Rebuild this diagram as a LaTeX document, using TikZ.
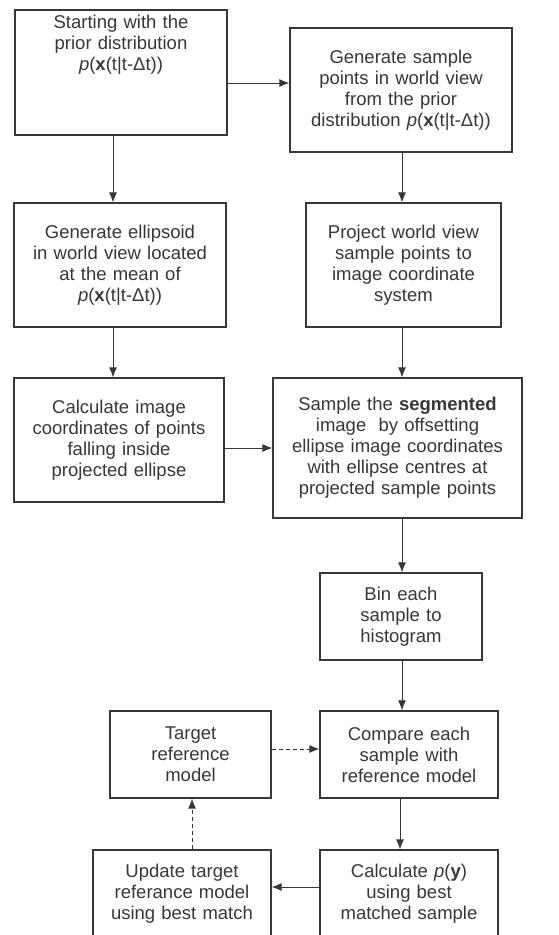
\documentclass[tikz,border=0pt]{standalone}
\usepackage{fontspec}
\setmainfont{Liberation Sans}
\usetikzlibrary{arrows.meta, positioning}
\definecolor{ink}{RGB}{55,55,55}
\tikzstyle{block} = [rectangle, draw=ink, text=ink, align=center, inner xsep=4pt, inner ysep=2pt, line width=1.3pt, font=\fontsize{18.5}{21}\selectfont]
\tikzstyle{line} = [draw=ink, -{Latex[length=10pt, width=8pt]}, line width=0.9pt]
\tikzstyle{dline} = [line, dash pattern=on 4pt off 3pt]

\begin{document}
\begin{tikzpicture}
        \useasboundingbox (0,0) rectangle (559pt,-935pt);
        % Nodes
        \node [block, text width=204pt, minimum height=125pt] (start) at (121pt,-72.5pt) {Starting with the\\prior distribution\\\textit{p}(\textbf{x}(t|t-Δt))\\[38pt]\mbox{}};
        \node [block, right of=start, node distance=280pt, yshift=-17.5pt, text width=214pt, minimum height=124pt] (gensample) {Generate sample\\points in world view\\from the prior\\distribution \textit{p}(\textbf{x}(t|t-Δt))};
        \node [block, below of=start, node distance=192.5pt, xshift=-1pt, text width=204pt, minimum height=124pt] (ellipsoid) {Generate ellipsoid\\in world view located\\at the mean of\\\textit{p}(\textbf{x}(t|t-Δt))};
        \node [block, below of=gensample, node distance=175pt, xshift=2.5pt, text width=187pt, minimum height=124pt] (project) {Project world view\\sample points to\\image coordinate\\system};
        \node [block, below of=ellipsoid, node distance=175pt, xshift=-1pt, text width=202pt, minimum height=124pt] (calcimg) {Calculate image\\coordinates of points\\falling inside\\projected ellipse};
        \node [block, below of=project, node distance=183pt, xshift=-6pt, text width=241pt, minimum height=140pt] (segment) {Sample the \textbf{segmented}\\image\ \ by offsetting\\ellipse image coordinates\\with ellipse centres at\\projected sample points};
        \node [block, below of=segment, node distance=168.5pt, xshift=3.5pt, text width=154pt, minimum height=87pt] (bin) {Bin each\\sample to\\histogram};
        \node [block, below of=bin, node distance=138pt, xshift=8pt, text width=170pt, minimum height=87pt] (compare) {Compare each\\sample with\\reference model};
        \node [block, below of=compare, node distance=139pt, text width=170pt, minimum height=87pt] (calcpy) {Calculate \textit{p}(\textbf{y})\\using best\\matched sample};
        \node [block, left of=compare, node distance=218.5pt, text width=153pt, minimum height=87pt] (target) {Target\\reference\\model};
        \node [block, left of=calcpy, node distance=227pt, text width=170pt, minimum height=87pt] (update) {Update target\\referance model\\using best match};

        % Edges
        \path [line] ([yshift=-10.5pt]start.east) -- ([yshift=7pt]gensample.west);
        \path [line] ([xshift=-8pt]start.south) -- ([xshift=-7pt]ellipsoid.north);
        \path [line] ([xshift=1pt]gensample.south) -- ([xshift=-1.5pt]project.north);
        \path [line] ([xshift=-7pt]ellipsoid.south) -- ([xshift=-6pt]calcimg.north);
        \path [line] ([xshift=-1.5pt]project.south) -- ([xshift=4.5pt]segment.north);
        \path [line] ([yshift=-8pt]calcimg.east) -- (segment.west);
        \path [line] ([xshift=4.5pt]segment.south) -- ([xshift=1pt]bin.north);
        \path [line] ([xshift=1pt]bin.south) -- ([xshift=-7pt]compare.north);
        \path [dline] ([yshift=5.5pt]target.east) -- ([yshift=5.5pt]compare.west);
        \path [line] ([xshift=-9pt]compare.south) -- ([xshift=-9pt]calcpy.north);
        \path [line] ([yshift=6.5pt]calcpy.west) -- ([yshift=6.5pt]update.east);
        \path [dline] ([xshift=10pt]update.north) -- ([xshift=1.5pt]target.south);
\end{tikzpicture}
\end{document}
